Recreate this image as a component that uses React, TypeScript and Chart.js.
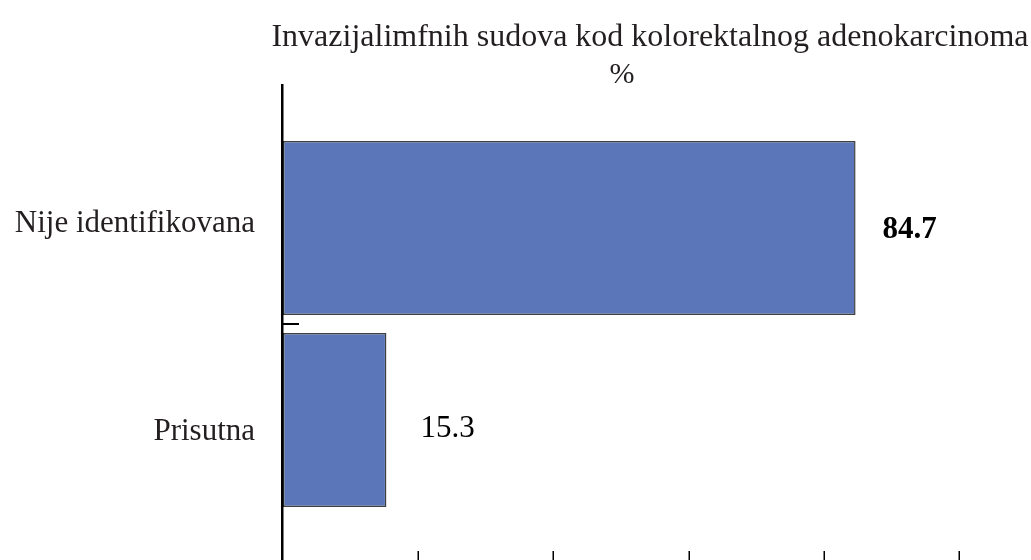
import React, { useEffect, useRef } from "react";
import { Chart, registerables } from "chart.js";

Chart.register(...registerables);

const chartTitle = "Invazijalimfnih sudova kod kolorektalnog adenokarcinoma";
const chartSubtitle = "%";
const categories = ["Nije identifikovana", "Prisutna"];
const percentValues = [84.7, 15.3];
const valueLabels = ["84.7", "15.3"];
const xTickValues = [0, 20, 40, 60, 80, 100];

const SERIF = '"Liberation Serif", "Times New Roman", serif';

const decorPlugin = {
  id: "decor",
  afterDatasetsDraw(chart: any) {
    const ctx = chart.ctx;
    const area = chart.chartArea;
    const xs = chart.scales.x;
    const ys = chart.scales.y;
    ctx.save();

    // title
    ctx.fillStyle = "#231F20";
    ctx.textAlign = "center";
    ctx.textBaseline = "alphabetic";
    ctx.font = `32px ${SERIF}`;
    ctx.fillText(chartTitle, 650, 46);
    ctx.font = `30px ${SERIF}`;
    ctx.fillText(chartSubtitle, 622, 83);

    // vertical axis line
    ctx.strokeStyle = "#000";
    ctx.lineWidth = 2.5;
    ctx.beginPath();
    ctx.moveTo(area.left - 0.75, 84);
    ctx.lineTo(area.left - 0.75, 560);
    ctx.stroke();

    // inward tick between categories
    const mid = (ys.getPixelForValue(0) + ys.getPixelForValue(1)) / 2;
    ctx.lineWidth = 2;
    ctx.beginPath();
    ctx.moveTo(area.left - 1, mid);
    ctx.lineTo(area.left + 16, mid);
    ctx.stroke();

    // x ticks at bottom
    ctx.lineWidth = 1.5;
    xTickValues.slice(1).forEach((v) => {
      const px = Math.round(xs.getPixelForValue(v)) + 0.25;
      ctx.beginPath();
      ctx.moveTo(px, 551);
      ctx.lineTo(px, 560);
      ctx.stroke();
    });

    // category labels
    const labelShift = [4, 20];
    ctx.fillStyle = "#231F20";
    ctx.textAlign = "right";
    ctx.font = `31px ${SERIF}`;
    categories.forEach((c, i) => {
      const y = ys.getPixelForValue(i);
      ctx.fillText(c, area.left - 28, y + labelShift[i]);
    });

    // value labels
    const meta = chart.getDatasetMeta(0);
    const valueShift = [10, 17];
    const valueGap = [27, 34];
    const valueBold = [true, false];
    ctx.fillStyle = "#000";
    ctx.textAlign = "left";
    meta.data.forEach((bar: any, i: number) => {
      ctx.font = `${valueBold[i] ? "bold " : ""}31px ${SERIF}`;
      ctx.fillText(valueLabels[i], bar.x + valueGap[i], bar.y + valueShift[i]);
    });

    ctx.restore();
  },
};

export default function App() {
  const ref = useRef<HTMLCanvasElement | null>(null);

  useEffect(() => {
    document.body.style.margin = "0";
    const canvas = ref.current;
    if (!canvas) return;
    const chart = new Chart(canvas, {
      type: "bar",
      data: {
        labels: categories,
        datasets: [
          {
            data: percentValues,
            backgroundColor: "#5B76B9",
            borderColor: "#404040",
            borderWidth: 1.5,
            borderSkipped: false,
            categoryPercentage: 1,
            barPercentage: 0.906,
          },
        ],
      },
      options: {
        indexAxis: "y",
        animation: false,
        responsive: false,
        devicePixelRatio: 1,
        layout: { padding: { left: 283, right: 72, top: 132, bottom: 44 } },
        plugins: {
          legend: { display: false },
          title: { display: false },
          tooltip: { enabled: false },
        },
        scales: {
          x: { display: false, min: 0, max: 100 },
          y: { display: false },
        },
      },
      plugins: [decorPlugin],
    });
    return () => chart.destroy();
  }, []);

  return (
    <div style={{ width: 1031, height: 560, background: "#fff" }}>
      <canvas ref={ref} width={1031} height={560} style={{ display: "block" }} />
    </div>
  );
}
